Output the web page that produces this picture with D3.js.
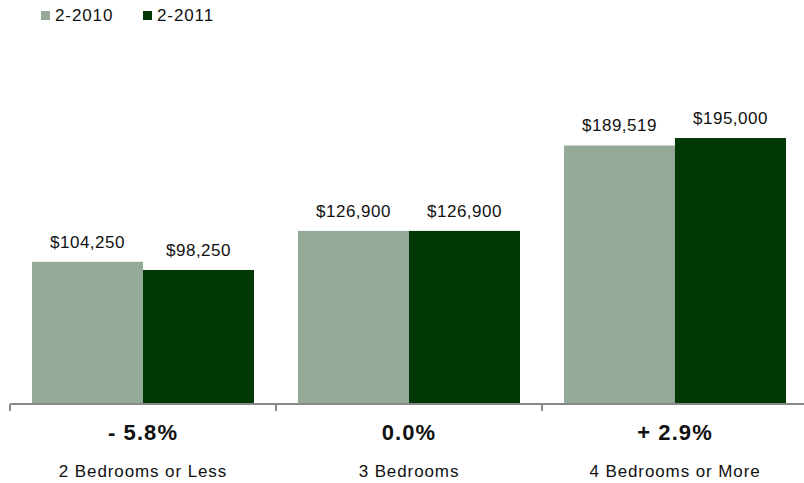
<!DOCTYPE html>
<html>
<head>
<meta charset="utf-8">
<script src="https://cdn.jsdelivr.net/npm/d3@7"></script>
<style>
  body { margin: 0; background: #fff; }
  text { font-family: "Liberation Sans", Arial, sans-serif; fill: #111; }
</style>
</head>
<body>
<div id="chart"></div>
<script>
// Data
var categories = ["2 Bedrooms or Less", "3 Bedrooms", "4 Bedrooms or More"];
var seriesNames = ["2-2010", "2-2011"];
var values2010 = [104250, 126900, 189519];
var values2011 = [98250, 126900, 195000];
var changeLabels = ["- 5.8%", "0.0%", "+ 2.9%"];
var colors = ["#95a999", "#023806"];

var svgWidth = 804;
var svgHeight = 483;

var svg = d3.select("#chart")
  .append("svg")
  .attr("width", svgWidth)
  .attr("height", svgHeight);

// Scales
var xScale = d3.scaleBand()
  .domain(categories)
  .range([10, 808])
  .paddingInner(0)
  .paddingOuter(0);

var xInner = d3.scaleBand()
  .domain(seriesNames)
  .range([22, xScale.bandwidth() - 22]);

var yScale = d3.scaleLinear()
  .domain([0, 250000])
  .range([404, 63]);

var fmt = d3.format("$,");

// Bars
var rows = categories.map(function(c, i) {
  return { cat: c, vals: [values2010[i], values2011[i]] };
});

var groups = svg.selectAll(".group")
  .data(rows)
  .enter()
  .append("g")
  .attr("transform", d => `translate(${xScale(d.cat)},0)`);

groups.selectAll("rect")
  .data(d => d.vals.map((v, j) => ({ name: seriesNames[j], value: v, idx: j })))
  .enter()
  .append("rect")
  .attr("x", d => xInner(d.name))
  .attr("y", d => yScale(d.value))
  .attr("width", xInner.bandwidth())
  .attr("height", d => yScale(0) - yScale(d.value))
  .attr("fill", d => colors[d.idx]);

groups.selectAll(".val")
  .data(d => d.vals.map((v, j) => ({ name: seriesNames[j], value: v })))
  .enter()
  .append("text")
  .attr("x", d => xInner(d.name) + xInner.bandwidth() / 2)
  .attr("y", d => yScale(d.value) - 14)
  .attr("text-anchor", "middle")
  .style("font-size", "17px")
  .style("letter-spacing", "0.5px")
  .text(d => fmt(d.value));

// Axis
var bottomAxis = d3.axisBottom(xScale).tickSize(0).tickFormat("");
var axisG = svg.append("g")
  .attr("transform", "translate(0,404)")
  .call(bottomAxis);
axisG.select(".domain").attr("stroke", "#888").attr("stroke-width", 2)
  .attr("d", "M10,0H808");

// tick marks at band edges
svg.selectAll(".edge")
  .data(categories.map(c => xScale(c)).concat([xScale(categories[2]) + xScale.bandwidth()]))
  .enter()
  .append("line")
  .attr("x1", d => d).attr("x2", d => d)
  .attr("y1", 404).attr("y2", 411)
  .attr("stroke", "#888")
  .attr("stroke-width", 2);

// Change labels and category labels
svg.selectAll(".chg")
  .data(categories)
  .enter()
  .append("text")
  .attr("x", d => xScale(d) + xScale.bandwidth() / 2)
  .attr("y", 440)
  .attr("text-anchor", "middle")
  .style("font-size", "22px")
  .style("font-weight", "bold")
  .style("letter-spacing", "1.1px")
  .text((d, i) => changeLabels[i]);

svg.selectAll(".cat")
  .data(categories)
  .enter()
  .append("text")
  .attr("x", d => xScale(d) + xScale.bandwidth() / 2)
  .attr("y", 477)
  .attr("text-anchor", "middle")
  .style("font-size", "17px")
  .style("letter-spacing", "0.9px")
  .text(d => d);

// Legend
var legend = svg.selectAll(".legend")
  .data(seriesNames)
  .enter()
  .append("g")
  .attr("transform", (d, i) => `translate(${41 + i * 102},0)`);

legend.append("rect")
  .attr("x", 0).attr("y", 11)
  .attr("width", 9).attr("height", 9)
  .attr("fill", (d, i) => colors[i]);

legend.append("text")
  .attr("x", 14).attr("y", 21)
  .style("font-size", "17px")
  .style("letter-spacing", "0.9px")
  .text(d => d);
</script>
</body>
</html>
